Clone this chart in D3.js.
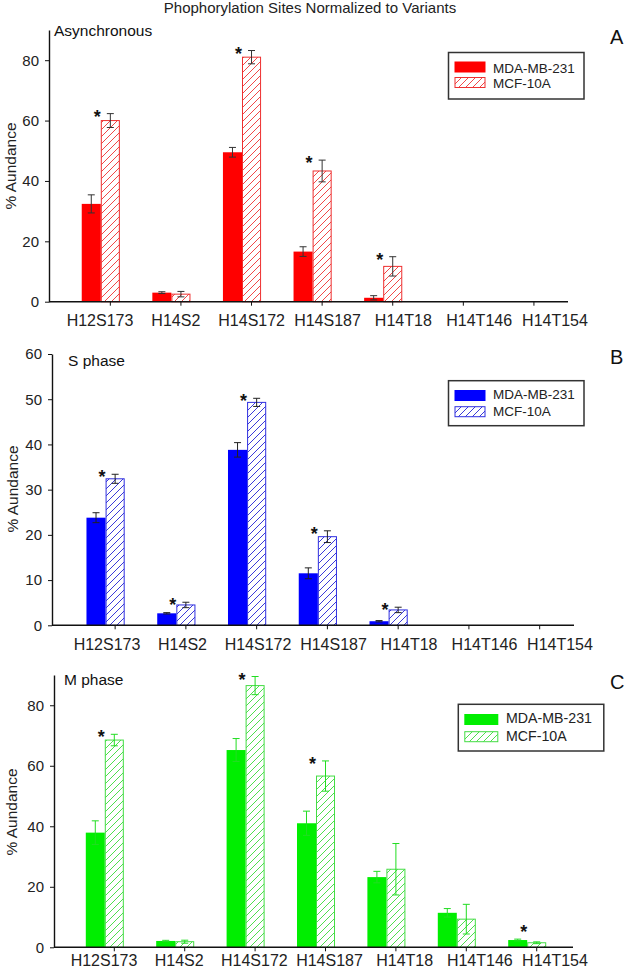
<!DOCTYPE html>
<html>
<head>
<meta charset="utf-8">
<script src="https://cdn.jsdelivr.net/npm/d3@7"></script>
<style>
  body { margin: 0; background: #fff; }
  svg { display: block; font-family: "Liberation Sans", Arial, sans-serif; }
</style>
</head>
<body>
<svg id="chart" width="625" height="971"></svg>
<script>
// categories shared by all three panels
var categories = ["H12S173", "H14S2", "H14S172", "H14S187", "H14T18", "H14T146", "H14T154"];
var seriesNames = ["MDA-MB-231", "MCF-10A"];

// Asynchronous
var asyncMDA    = [32.4, 3.0, 49.5, 16.6, 1.3, 0, 0];
var asyncMDAErr = [3.0, 0.3, 1.6, 1.6, 0.7, 0, 0];
var asyncMCF    = [60.0, 2.5, 81.0, 43.3, 11.7, 0, 0];
var asyncMCFErr = [2.3, 0.9, 2.2, 3.6, 3.2, 0, 0];
var asyncSig    = [true, false, true, true, true, false, false];

// S phase
var sMDA    = [23.8, 2.65, 38.8, 11.5, 0.9, 0, 0];
var sMDAErr = [1.1, 0.15, 1.6, 1.2, 0.15, 0, 0];
var sMCF    = [32.4, 4.5, 49.3, 19.6, 3.4, 0, 0];
var sMCFErr = [1.0, 0.6, 0.9, 1.3, 0.6, 0, 0];
var sSig    = [true, true, true, true, true, false, false];

// M phase
var mMDA    = [37.9, 2.1, 65.2, 41.0, 23.2, 11.4, 2.4];
var mMDAErr = [3.9, 0.2, 3.8, 4.0, 1.9, 1.4, 0.3];
var mMCF    = [68.5, 1.85, 86.5, 56.6, 25.8, 9.3, 1.5];
var mMCFErr = [1.9, 0.5, 3.0, 5.0, 8.5, 4.9, 0.3];
var mSig    = [true, false, true, true, false, false, true];

var asyncTicks = [0, 20, 40, 60, 80];
var sTicks = [0, 10, 20, 30, 40, 50, 60];
var mTicks = [0, 20, 40, 60, 80];

var svg = d3.select("#chart");
var defs = svg.append("defs");

// diagonal hatch pattern, one per colour
function hatch(id, color) {
  var p = defs.append("pattern")
    .attr("id", id)
    .attr("patternUnits", "userSpaceOnUse")
    .attr("width", 7).attr("height", 7);
  p.append("rect").attr("width", 7).attr("height", 7).attr("fill", "#fff");
  p.append("path")
    .attr("d", "M0,7 L7,0 M-1,1 L1,-1 M6,8 L8,6")
    .attr("stroke", color).attr("stroke-width", 1);
}
hatch("hatchRed", "#f04848");
hatch("hatchBlue", "#3a3ad8");
hatch("hatchGreen", "#4ede4e");

svg.append("text")
  .attr("x", 310).attr("y", 13)
  .attr("text-anchor", "middle")
  .attr("font-size", "15px").attr("fill", "#222")
  .text("Phophorylation Sites Normalized to Variants");

function drawPanel(o) {
  var g = svg.append("g");

  var y = d3.scaleLinear().domain([0, o.yMax]).range([o.y0, o.yTop]);
  var x = d3.scaleBand().domain(categories).range(o.band).padding(0);
  var xl = d3.scalePoint().domain(categories).range(o.labels);
  var bw = x.step() * 0.27;

  var rows = categories.map(function(c, i) {
    return { cat: c, a: o.mda[i], ae: o.mdaErr[i], b: o.mcf[i], be: o.mcfErr[i], sig: o.sig[i] };
  });

  // y axis
  g.append("g")
    .attr("transform", "translate(" + o.ax + ",0)")
    .call(d3.axisLeft(y).tickValues(o.ticks).tickSize(4).tickSizeOuter(0).tickPadding(6))
    .call(function(s) {
      s.select(".domain").attr("stroke", "#111").attr("stroke-width", 1.4);
      s.selectAll(".tick line").attr("stroke", "#111");
      s.selectAll(".tick text").attr("font-size", "15px").attr("fill", "#222")
        .attr("font-family", "Liberation Sans, Arial, sans-serif");
    });

  var cx = function(d) { return x(d.cat) + x.bandwidth() / 2; };

  // solid bars
  g.selectAll(".solid").data(rows.filter(function(d) { return d.a > 0; }))
    .enter().append("rect")
    .attr("x", function(d) { return cx(d) - bw; })
    .attr("width", bw)
    .attr("y", function(d) { return y(d.a); })
    .attr("height", function(d) { return y(0) - y(d.a); })
    .attr("fill", o.color);

  // hatched bars
  g.selectAll(".hatched").data(rows.filter(function(d) { return d.b > 0; }))
    .enter().append("rect")
    .attr("x", function(d) { return cx(d) + 0.5; })
    .attr("width", bw - 1)
    .attr("y", function(d) { return y(d.b); })
    .attr("height", function(d) { return y(0) - y(d.b); })
    .attr("fill", "url(#" + o.pattern + ")")
    .attr("stroke", o.hatchStroke).attr("stroke-width", 1);

  // error bars
  var errs = [];
  rows.forEach(function(d) {
    if (d.a > 0) errs.push({ x: cx(d) - bw / 2, v: d.a, e: d.ae });
    if (d.b > 0) errs.push({ x: cx(d) + bw / 2, v: d.b, e: d.be });
  });
  var eg = g.selectAll(".err").data(errs).enter().append("g")
    .attr("stroke", o.errColor).attr("stroke-width", 1);
  eg.append("line")
    .attr("x1", function(d) { return d.x; }).attr("x2", function(d) { return d.x; })
    .attr("y1", function(d) { return y(d.v - d.e); })
    .attr("y2", function(d) { return y(d.v + d.e); });
  eg.append("line")
    .attr("x1", function(d) { return d.x - 3.5; }).attr("x2", function(d) { return d.x + 3.5; })
    .attr("y1", function(d) { return y(d.v + d.e); }).attr("y2", function(d) { return y(d.v + d.e); });
  eg.append("line")
    .attr("x1", function(d) { return d.x - 3.5; }).attr("x2", function(d) { return d.x + 3.5; })
    .attr("y1", function(d) { return y(d.v - d.e); }).attr("y2", function(d) { return y(d.v - d.e); });

  // significance asterisks, kept a little clear of the axis
  g.selectAll(".star").data(rows.filter(function(d) { return d.sig; }))
    .enter().append("text")
    .attr("x", function(d) { return cx(d) - 3.5; })
    .attr("y", function(d) { return Math.min(y(Math.max(d.a + d.ae, d.b + d.be)) + 9, o.y0 - 9); })
    .attr("text-anchor", "middle")
    .attr("font-size", "18px").attr("font-weight", "bold").attr("fill", "#111")
    .text("*");

  // x axis
  g.append("line")
    .attr("x1", o.ax).attr("x2", o.xEnd)
    .attr("y1", o.y0).attr("y2", o.y0)
    .attr("stroke", "#111").attr("stroke-width", 1.4);
  g.selectAll(".xt").data(rows).enter().append("line")
    .attr("x1", function(d) { return cx(d) + bw / 2; })
    .attr("x2", function(d) { return cx(d) + bw / 2; })
    .attr("y1", o.y0).attr("y2", o.y0 + 4)
    .attr("stroke", "#111");
  g.selectAll(".xl").data(categories).enter().append("text")
    .attr("x", function(d) { return xl(d); })
    .attr("y", o.labelY)
    .attr("text-anchor", "middle")
    .attr("font-size", "16px").attr("fill", "#222")
    .text(function(d) { return d; });

  // y axis title
  g.append("text")
    .attr("transform", "translate(" + o.titleX + "," + o.titleY + ") rotate(-90)")
    .attr("text-anchor", "middle")
    .attr("font-size", "15.5px").attr("fill", "#222")
    .text("% Aundance");

  // panel name and letter
  g.append("text").attr("x", o.nameX).attr("y", o.nameY)
    .attr("font-size", "15.5px").attr("fill", "#111").text(o.name);
  g.append("text").attr("x", 610).attr("y", o.letterY)
    .attr("font-size", "20px").attr("fill", "#111").text(o.letter);

  // legend
  var L = o.legend;
  var lg = g.append("g");
  lg.append("rect")
    .attr("x", L.x).attr("y", L.y).attr("width", L.w).attr("height", L.h)
    .attr("fill", "#fff").attr("stroke", "#333").attr("stroke-width", 1.5);
  lg.append("rect")
    .attr("x", L.x + 6).attr("y", L.y + L.r1).attr("width", L.sw).attr("height", 11)
    .attr("fill", o.color);
  lg.append("rect")
    .attr("x", L.x + 6.5).attr("y", L.y + L.r2).attr("width", L.sw - 1).attr("height", 10)
    .attr("fill", "url(#" + o.pattern + ")")
    .attr("stroke", o.hatchStroke).attr("stroke-width", 1);
  lg.selectAll(".lt").data(seriesNames).enter().append("text")
    .attr("x", L.x + L.tx)
    .attr("y", function(d, i) { return L.y + (i === 0 ? L.b1 : L.b2); })
    .attr("font-size", L.fs).attr("fill", "#222")
    .text(function(d) { return d; });
}

drawPanel({
  mda: asyncMDA, mdaErr: asyncMDAErr, mcf: asyncMCF, mcfErr: asyncMCFErr, sig: asyncSig,
  ticks: asyncTicks, yMax: 90, y0: 301.7, yTop: 30,
  ax: 49, xEnd: 568, band: [65.5, 559.7], labels: [100, 555], labelY: 326,
  color: "#ff0000", hatchStroke: "#ee3030", pattern: "hatchRed", errColor: "#333",
  titleX: 16, titleY: 166, name: "Asynchronous", nameX: 54, nameY: 36,
  letter: "A", letterY: 44,
  legend: { x: 448.5, y: 52.5, w: 135.5, h: 46.5, sw: 31, r1: 9, r2: 25, tx: 44.5, b1: 20, b2: 35, fs: "13.5px" }
});

drawPanel({
  mda: sMDA, mdaErr: sMDAErr, mcf: sMCF, mcfErr: sMCFErr, sig: sSig,
  ticks: sTicks, yMax: 60, y0: 625.3, yTop: 354,
  ax: 52, xEnd: 574, band: [70.2, 565.5], labels: [107, 560], labelY: 650,
  color: "#0000ff", hatchStroke: "#3030e0", pattern: "hatchBlue", errColor: "#222",
  titleX: 18, titleY: 489, name: "S phase", nameX: 68, nameY: 366,
  letter: "B", letterY: 364,
  legend: { x: 448.5, y: 380.7, w: 135.5, h: 45, sw: 31, r1: 9.3, r2: 26, tx: 44.5, b1: 18.6, b2: 35.3, fs: "13.5px" }
});

drawPanel({
  mda: mMDA, mdaErr: mMDAErr, mcf: mMCF, mcfErr: mMCFErr, sig: mSig,
  ticks: mTicks, yMax: 90, y0: 947.3, yTop: 675,
  ax: 54, xEnd: 573, band: [69.6, 562.4], labels: [104, 555], labelY: 966,
  color: "#00ee00", hatchStroke: "#44dd44", pattern: "hatchGreen", errColor: "#22dd22",
  titleX: 17, titleY: 812, name: "M phase", nameX: 64, nameY: 685,
  letter: "C", letterY: 689,
  legend: { x: 458.3, y: 704.3, w: 145.5, h: 46.7, sw: 34, r1: 9.7, r2: 27.4, tx: 47.7, b1: 19, b2: 36.4, fs: "14.2px" }
});
</script>
</body>
</html>
